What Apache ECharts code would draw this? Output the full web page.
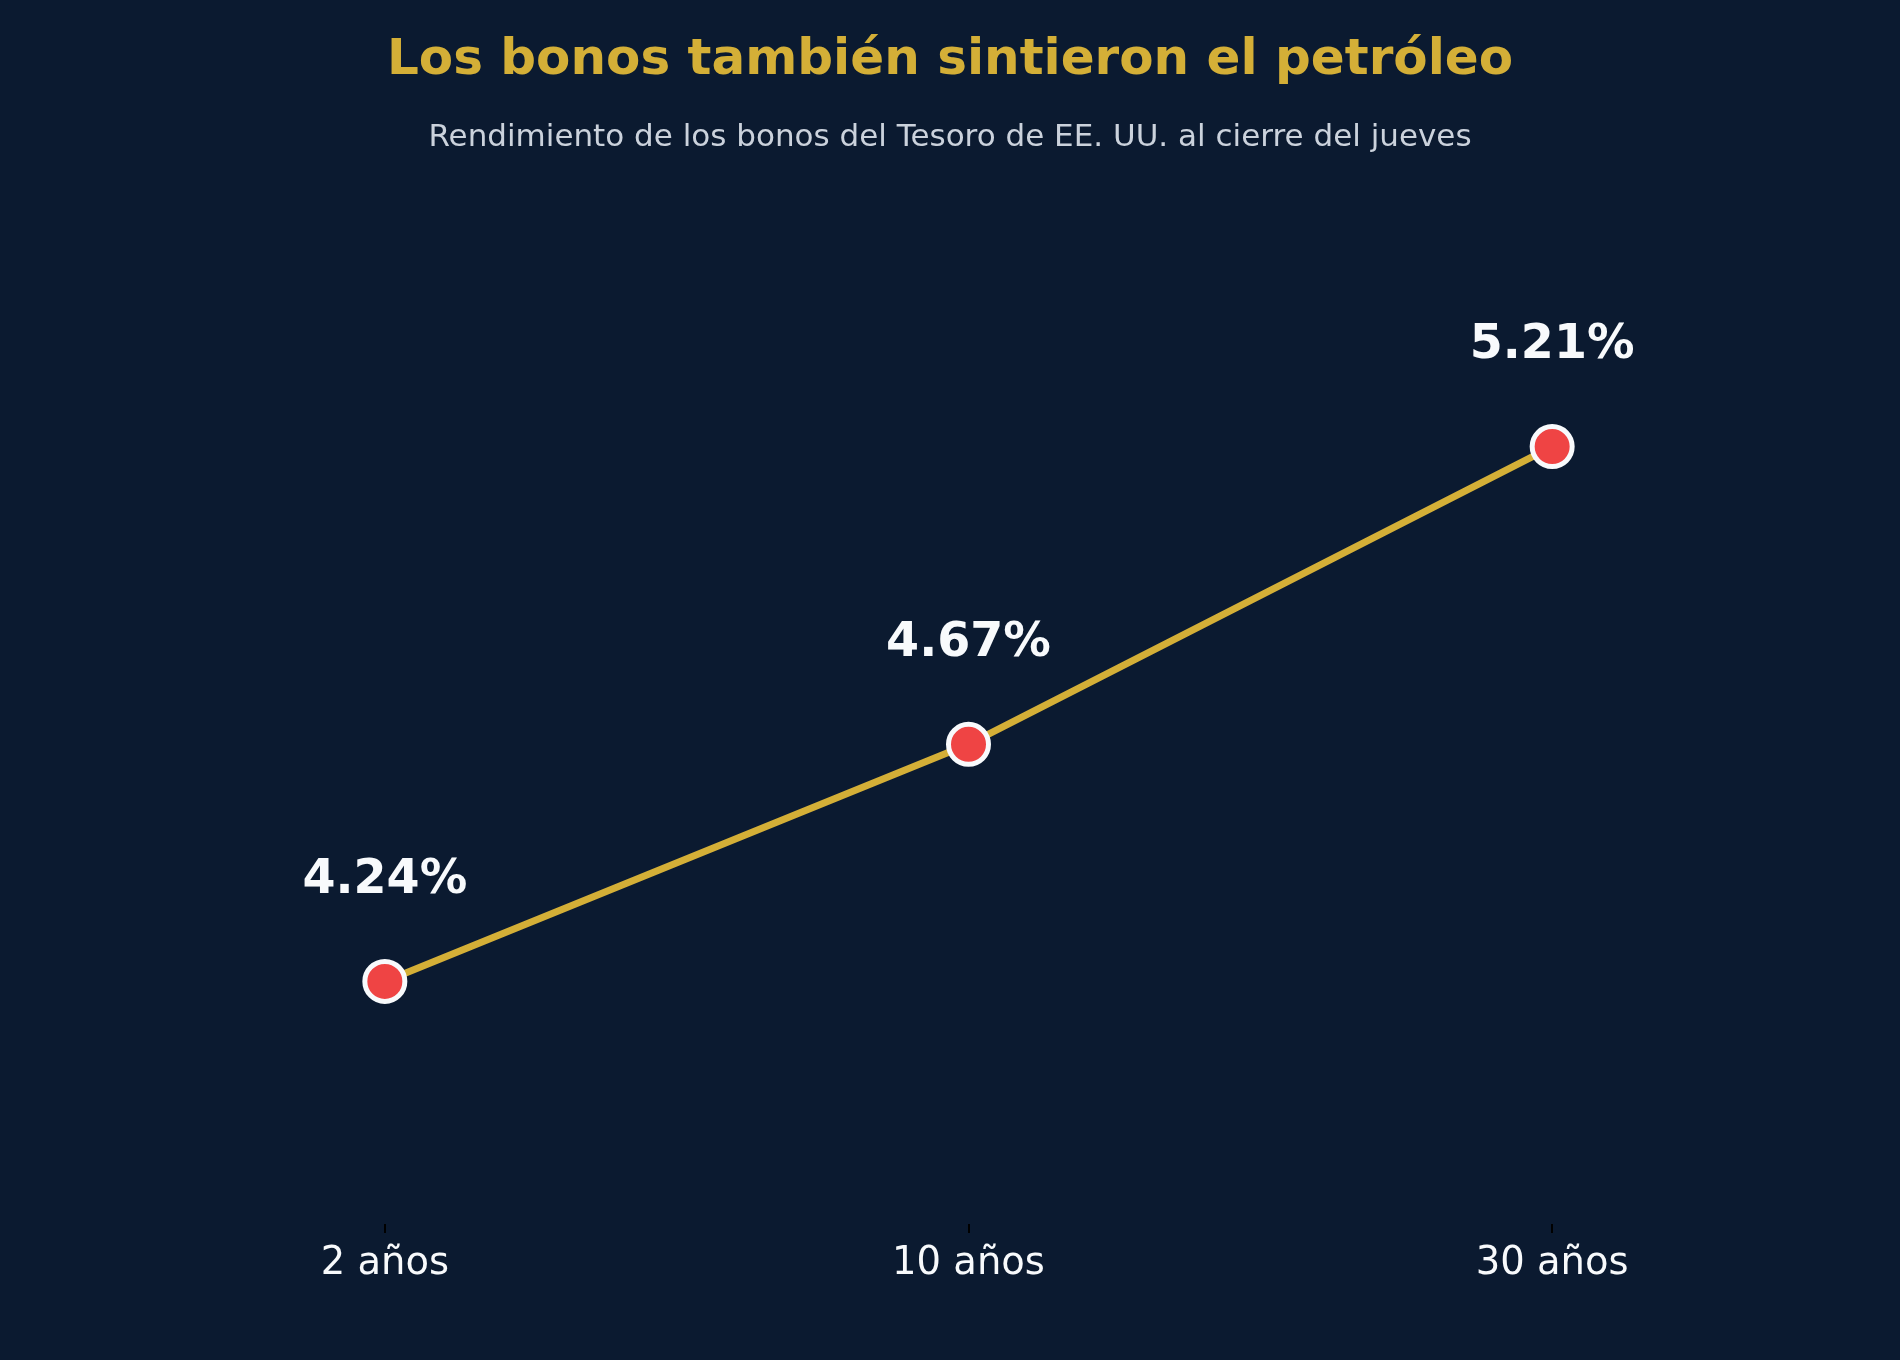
<!DOCTYPE html>
<html>
<head>
<meta charset="utf-8">
<title>Los bonos también sintieron el petróleo</title>
<script src="https://cdn.jsdelivr.net/npm/echarts@6/dist/echarts.min.js"></script>
<style>
    html, body { margin: 0; padding: 0; background: #0b1a30; }
    #Chart { width: 1900px; height: 1360px; }
</style>
</head>
<body>
<div id="Chart"></div>
<script>
"use strict";
/** Plazos del bono */
const maturities = ["2 años", "10 años", "30 años"];
/** Rendimiento al cierre, en % */
const yields = [4.24, 4.67, 5.21];
/** Rango del eje de rendimiento */
const yieldRange = [3.8, 5.65];

const fontFamily = "DejaVu Sans, Noto Sans, sans-serif";
let chart = echarts.init(document.getElementById("Chart"));
chart.setOption({
    backgroundColor: "#0b1a30",
    animation: false,
    title: [
        {
            text: "Los bonos también sintieron el petróleo",
            left: "center",
            top: 31,
            textStyle: { color: "#d4af37", fontSize: 50, fontWeight: "bold", fontFamily: fontFamily }
        },
        {
            text: "Rendimiento de los bonos del Tesoro de EE. UU. al cierre del jueves",
            left: "center",
            top: 117,
            textStyle: { color: "#cbd2dc", fontSize: 31, fontWeight: "normal", fontFamily: fontFamily }
        }
    ],
    grid: { left: 93, right: 56, top: 204, bottom: 136 },
    xAxis: {
        type: "category",
        data: maturities,
        boundaryGap: true,
        axisLine: { show: false },
        axisTick: { show: true, alignWithLabel: true, length: 9, lineStyle: { color: "#000000", width: 2 } },
        axisLabel: { color: "#f8fafc", fontSize: 38.5, fontFamily: fontFamily, margin: 20 },
        splitLine: { show: false }
    },
    yAxis: {
        type: "value",
        min: yieldRange[0],
        max: yieldRange[1],
        show: false
    },
    series: [
        {
            type: "line",
            data: yields,
            lineStyle: { color: "#d4af37", width: 7 },
            symbol: "circle",
            symbolSize: 40,
            itemStyle: { color: "#ef4444", borderColor: "#f8fafc", borderWidth: 5 },
            label: {
                show: true,
                position: "top",
                distance: 54,
                formatter: (p) => p.value.toFixed(2) + "%",
                color: "#f8fafc",
                fontSize: 47.5,
                fontWeight: "bold",
                fontFamily: fontFamily
            },
            z: 3
        }
    ]
});
</script>
</body>
</html>
